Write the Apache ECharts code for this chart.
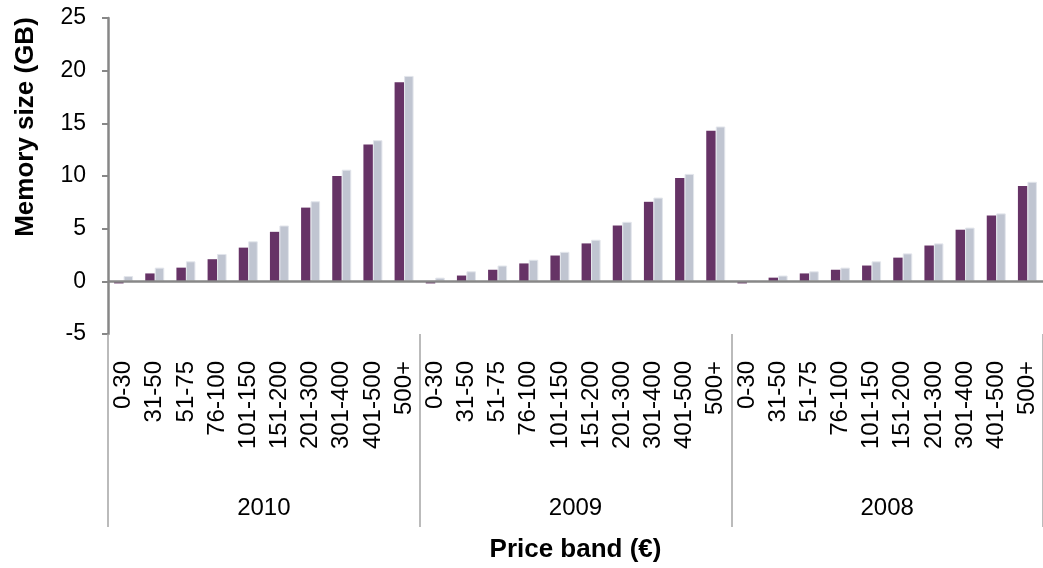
<!DOCTYPE html>
<html>
<head>
<meta charset="utf-8">
<title>Memory size by price band</title>
<script src="https://cdn.jsdelivr.net/npm/echarts@6/dist/echarts.min.js"></script>
<style>
  html, body { margin: 0; padding: 0; background: #ffffff; }
  #chart { width: 1043px; height: 568px; }
</style>
</head>
<body>
<div id="chart"></div>
<script>
// Price bands repeated for each year
const bands = ['0-30', '31-50', '51-75', '76-100', '101-150', '151-200', '201-300', '301-400', '401-500', '500+'];
const years = ['2010', '2009', '2008'];

// Memory size (GB) per band, first series (purple)
const purple2010 = [-0.2, 0.75, 1.3, 2.1, 3.2, 4.7, 7.0, 10.0, 13.0, 18.9];
const purple2009 = [-0.2, 0.55, 1.1, 1.7, 2.45, 3.6, 5.3, 7.55, 9.8, 14.3];
const purple2008 = [-0.2, 0.35, 0.75, 1.1, 1.5, 2.25, 3.4, 4.9, 6.25, 9.05];

// Memory size (GB) per band, second series (grey)
const grey2010 = [0.5, 1.3, 1.9, 2.6, 3.8, 5.3, 7.6, 10.6, 13.4, 19.5];
const grey2009 = [0.35, 0.95, 1.5, 2.05, 2.8, 3.95, 5.65, 7.95, 10.2, 14.7];
const grey2008 = [0, 0.55, 0.95, 1.3, 1.9, 2.65, 3.6, 5.1, 6.45, 9.45];

const yTicks = { min: -5, max: 25, interval: 5 };

const yTitle = 'Memory size (GB)';
const xTitle = 'Price band (€)';

const categories = years.flatMap(() => bands);
const purpleData = purple2010.concat(purple2009, purple2008);
const greyData = grey2010.concat(grey2009, grey2008);

const FONT = "'Liberation Sans', Arial, sans-serif";
const AXIS_GREY = '#878787';
const SEP_GREY = '#a5a5a5';

const chart = echarts.init(document.getElementById('chart'), null, { renderer: 'canvas' });

chart.setOption({
  animation: false,
  backgroundColor: '#ffffff',
  grid: { left: 108, right: -5, top: 18, bottom: 234, containLabel: false },
  // vertical axis title, sitting beside the upper part of the value axis
  graphic: [
    {
      type: 'text',
      x: 26,
      y: 127,
      rotation: Math.PI / 2,
      style: {
        text: yTitle,
        fontSize: 26,
        fontWeight: 'bold',
        fontFamily: FONT,
        fill: '#000000',
        align: 'center',
        verticalAlign: 'middle'
      }
    }
  ],
  xAxis: [
    {
      type: 'category',
      data: categories,
      position: 'bottom',
      axisLine: { show: false, onZero: false },
      axisTick: { show: false },
      axisLabel: {
        interval: 0,
        rotate: 90,
        margin: 27,
        fontSize: 24,
        fontFamily: FONT,
        color: '#000000'
      },
      splitLine: { show: false }
    },
    {
      type: 'category',
      data: years,
      position: 'bottom',
      axisLine: { show: false, onZero: false },
      axisTick: {
        show: true,
        interval: 0,
        length: 193,
        lineStyle: { color: SEP_GREY, width: 1.5 }
      },
      axisLabel: {
        interval: 0,
        margin: 162,
        fontSize: 24,
        fontFamily: FONT,
        color: '#000000'
      },
      name: xTitle,
      nameLocation: 'middle',
      nameGap: 203,
      nameTextStyle: {
        fontSize: 26,
        fontWeight: 'bold',
        fontFamily: FONT,
        color: '#000000'
      },
      splitLine: { show: false }
    }
  ],
  yAxis: {
    type: 'value',
    min: yTicks.min,
    max: yTicks.max,
    interval: yTicks.interval,
    axisLine: { show: true, lineStyle: { color: AXIS_GREY, width: 2.5 } },
    axisTick: { show: true, inside: false, length: 6, lineStyle: { color: AXIS_GREY, width: 2 } },
    axisLabel: {
      margin: 22,
      fontSize: 23,
      fontFamily: FONT,
      color: '#000000'
    },
    splitLine: { show: false }
  },
  series: [
    {
      name: 'Series 1',
      type: 'bar',
      xAxisIndex: 0,
      data: purpleData,
      barWidth: 9.5,
      barGap: '0%',
      itemStyle: { color: '#663366' },
      markLine: {
        silent: true,
        symbol: 'none',
        label: { show: false },
        lineStyle: { color: AXIS_GREY, width: 2.5, type: 'solid' },
        data: [{ yAxis: 0 }]
      }
    },
    {
      name: 'Series 2',
      type: 'bar',
      xAxisIndex: 0,
      data: greyData,
      barWidth: 9.5,
      itemStyle: { color: '#c0c5d1', borderColor: '#e2e5eb', borderWidth: 1 }
    }
  ]
});
</script>
</body>
</html>
